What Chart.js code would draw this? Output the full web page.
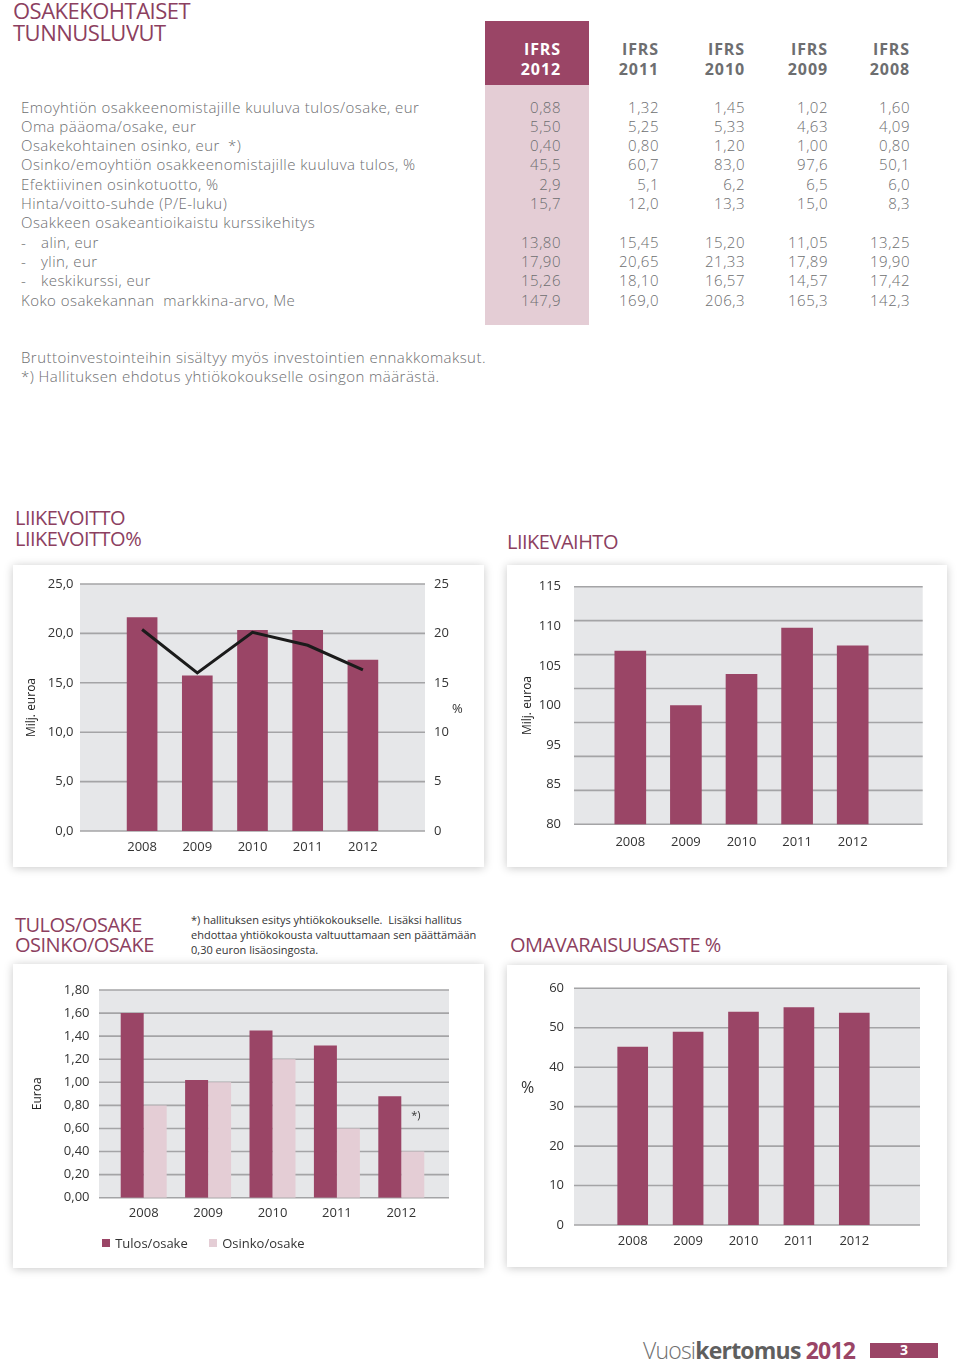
<!DOCTYPE html>
<html><head><meta charset="utf-8">
<script src="https://cdn.jsdelivr.net/npm/chart.js@4.4.1/dist/chart.umd.min.js"></script>
<style>
body{margin:0;background:#fff;font-family:"Open Sans",sans-serif;}
#page{position:relative;width:960px;height:1367px;overflow:hidden;background:#fff;}
.a{position:absolute;white-space:pre;}
.hd{color:#8c3f60;font-size:22px;line-height:21px;letter-spacing:-0.5px;}
.tx{color:#6d6e70;font-size:15px;line-height:19px;font-weight:300;letter-spacing:0.45px;}
.num{color:#6d6e70;font-size:15px;line-height:19px;font-weight:300;text-align:right;width:80px;letter-spacing:0.5px;}
.hy{font-size:16px;line-height:19px;font-weight:700;text-align:right;width:80px;color:#6d6e70;letter-spacing:0.9px;}
canvas{position:absolute;}
.ax{color:#333;font-size:13px;}
</style>
</head><body><div id="page"></div>
<script>
// ---------- data ----------
const years = ['2008','2009','2010','2011','2012'];
const liikevoitto = [21.6, 15.7, 20.3, 20.3, 17.3];
const liikevoittoPct = [20.4, 16.0, 20.1, 18.8, 16.3];
const liikevaihto = [105.5, 97.5, 102.1, 108.9, 106.3];
const liikevaihtoTickLabels = ['115','110','105','100','95','85','80'];
const tulosOsake = [1.60, 1.02, 1.45, 1.32, 0.88];
const osinkoOsake = [0.80, 1.00, 1.20, 0.60, 0.40];
const omavaraisuus = [45.1, 48.9, 54.0, 55.1, 53.7];

const tableYears = ['2012','2011','2010','2009','2008'];
const rowLabels = [
 'Emoyhtiön osakkeenomistajille kuuluva tulos/osake, eur',
 'Oma pääoma/osake, eur',
 'Osakekohtainen osinko, eur   *)',
 'Osinko/emoyhtiön osakkeenomistajille kuuluva tulos, %',
 'Efektiivinen osinkotuotto, %',
 'Hinta/voitto-suhde (P/E-luku)',
 'Osakkeen osakeantioikaistu kurssikehitys',
 '-\talin, eur',
 '-\tylin, eur',
 '-\tkeskikurssi, eur',
 'Koko osakekannan  markkina-arvo, Me'
];
const col2012 = ['0,88','5,50','0,40','45,5','2,9','15,7','','13,80','17,90','15,26','147,9'];
const col2011 = ['1,32','5,25','0,80','60,7','5,1','12,0','','15,45','20,65','18,10','169,0'];
const col2010 = ['1,45','5,33','1,20','83,0','6,2','13,3','','15,20','21,33','16,57','206,3'];
const col2009 = ['1,02','4,63','1,00','97,6','6,5','15,0','','11,05','17,89','14,57','165,3'];
const col2008 = ['1,60','4,09','0,80','50,1','6,0','8,3','','13,25','19,90','17,42','142,3'];

// ---------- styles ----------
const MAROON = '#9a4566';
const PINK = '#e4cdd5';
const GRAYBG = '#e6e7e9';
const GRID = '#a4a4a6';
const TICK = '#333333';
const page = document.getElementById('page');

function el(cls, txt, css){
  const d=document.createElement('div'); d.className='a '+(cls||''); d.textContent=txt;
  Object.assign(d.style, css||{}); page.appendChild(d); return d;
}
function box(css){const d=document.createElement('div'); d.style.position='absolute'; Object.assign(d.style,css); page.appendChild(d); return d;}

// ---------- top table ----------
el('hd','OSAKEKOHTAISET',{left:'13px',top:'0px'});
el('hd','TUNNUSLUVUT',{left:'13px',top:'21.5px'});
box({left:'485px',top:'21px',width:'104px',height:'64px',background:MAROON});
box({left:'485px',top:'85px',width:'104px',height:'240px',background:PINK});
const colRight=[561,659,745,828,910];
const cols=[col2012,col2011,col2010,col2009,col2008];
tableYears.forEach((y,i)=>{
  const c = i===0?'#ffffff':'#6d6e70';
  el('hy','IFRS',{left:(colRight[i]-80)+'px',top:'40px',color:c});
  el('hy',y,{left:(colRight[i]-80)+'px',top:'59.5px',color:c});
});
const rowTop0=97.5, rowH=19.33;
rowLabels.forEach((lab,r)=>{
  const top=(rowTop0+r*rowH)+'px';
  if(lab.startsWith('-\t')){
    el('tx','-',{left:'21px',top});
    el('tx',lab.slice(2),{left:'41px',top});
  } else if(lab.endsWith('*)')){
    el('tx',lab.replace(/\s+\*\)$/,''),{left:'21px',top});
    el('tx','*)',{left:'228px',top});
  } else el('tx',lab,{left:'21px',top});
  cols.forEach((c,i)=>{ if(c[r]) el('num',c[r],{left:(colRight[i]-80)+'px',top}); });
});
el('tx','Bruttoinvestointeihin sisältyy myös investointien ennakkomaksut.',{left:'21px',top:'347.5px'});
el('tx','*) Hallituksen ehdotus yhtiökokoukselle osingon määrästä.',{left:'21px',top:'367px'});

// ---------- section headings ----------
const sh={fontSize:'20px',lineHeight:'20px',letterSpacing:'-0.5px'};
el('hd','LIIKEVOITTO',Object.assign({left:'15px',top:'508.2px'},sh));
el('hd','LIIKEVOITTO%',Object.assign({left:'15px',top:'528.5px'},sh));
el('hd','LIIKEVAIHTO',Object.assign({left:'507px',top:'531.5px'},sh));
el('hd','TULOS/OSAKE',Object.assign({left:'15px',top:'914.8px'},sh));
el('hd','OSINKO/OSAKE',Object.assign({left:'15px',top:'934.8px'},sh));
el('hd','OMAVARAISUUSASTE %',Object.assign({left:'510px',top:'934.5px'},sh));
['*) hallituksen esitys yhtiökokoukselle.  Lisäksi hallitus','ehdottaa yhtiökokousta valtuuttamaan sen päättämään','0,30 euron lisäosingosta.']
 .forEach((t,i)=>el('',t,{left:'191px',top:(912+i*15)+'px',fontSize:'11px',lineHeight:'15px',color:'#333'}));

// ---------- panels ----------
const sh2='0 1px 9px rgba(0,0,0,0.22)';
box({left:'13px',top:'565px',width:'471px',height:'302px',background:'#fff',boxShadow:sh2});
box({left:'507px',top:'565px',width:'440px',height:'302px',background:'#fff',boxShadow:sh2});
box({left:'13px',top:'964px',width:'471px',height:'304px',background:'#fff',boxShadow:sh2});
box({left:'507px',top:'965px',width:'440px',height:'302px',background:'#fff',boxShadow:sh2});

// ---------- chart plugin: extended gray plot background + grid ----------
const panelBg={
  id:'panelBg',
  beforeDraw(chart,args,o){
    const a=chart.chartArea, s=chart.scales[o.scale||'y'], ctx=chart.ctx;
    const l=a.left-o.padL, r=a.right+o.padR;
    ctx.save();
    ctx.fillStyle=GRAYBG; ctx.fillRect(l,a.top,r-l,a.bottom-a.top);
    ctx.strokeStyle=GRID; ctx.lineWidth=1.6;
    s.ticks.forEach(t=>{const y=s.getPixelForValue(t.value); ctx.beginPath(); ctx.moveTo(l,y); ctx.lineTo(r,y); ctx.stroke();});
    ctx.restore();
  }
};
const noteMark={
  id:'noteMark',
  afterDatasetsDraw(chart,args,o){
    if(!o.text) return;
    const bar=chart.getDatasetMeta(o.dataset).data[o.index];
    const ctx=chart.ctx; ctx.save(); ctx.fillStyle='#333'; ctx.font='11px "Open Sans"';
    ctx.textAlign='center'; ctx.textBaseline='middle';
    ctx.fillText(o.text, bar.x+o.dx, bar.y+o.dy); ctx.restore();
  }
};
Chart.register(panelBg,noteMark);
Chart.defaults.font.family='"Open Sans", sans-serif';
Chart.defaults.font.size=13;
Chart.defaults.color=TICK;

function canvas(x,y,w,h){const c=document.createElement('canvas'); c.width=w;c.height=h; c.style.left=x+'px'; c.style.top=y+'px'; c.style.width=w+'px'; c.style.height=h+'px'; page.appendChild(c); return c;}
const noGrid={display:false,drawTicks:false};
const noBorder={display:false};
const comma=(d)=>v=>Number(v).toFixed(d).replace('.',',');
const basePlugins={legend:{display:false},tooltip:{enabled:false}};
const fixW=(w)=>function(s){s.width=w; s.paddingTop=0; s.paddingBottom=0;};
const fixH=(h)=>function(s){s.height=h; s.paddingLeft=0; s.paddingRight=0;};

// Chart 1: Liikevoitto + %
new Chart(canvas(13,565,471,302),{
  type:'bar',
  data:{labels:years,datasets:[
    {type:'line',label:'Liikevoitto %',data:liikevoittoPct,yAxisID:'y2',borderColor:'#1b1b1b',borderWidth:3,pointRadius:0,tension:0,order:0},
    {label:'Liikevoitto',data:liikevoitto,yAxisID:'y',backgroundColor:MAROON,barThickness:30,order:1}
  ]},
  options:{responsive:false,animation:false,devicePixelRatio:1,
    layout:{padding:{top:19,left:0,right:0,bottom:0}},
    plugins:Object.assign({panelBg:{padL:34.5,padR:34.5,scale:'y'}},basePlugins),
    scales:{
      x:{grid:noGrid,border:noBorder,ticks:{padding:8},afterFit:fixH(36)},
      y:{position:'left',min:0,max:25,grid:noGrid,border:noBorder,
         ticks:{stepSize:5,padding:41,callback:comma(1)},
         title:{display:true,text:'Milj. euroa',font:{size:12},color:'#222',padding:{top:11,bottom:0}},
         afterFit:fixW(101.5)},
      y2:{position:'right',min:0,max:25,grid:noGrid,border:noBorder,
         ticks:{stepSize:5,padding:43.5},afterFit:fixW(93.5)}
    }}
});
el('ax','%',{left:'452px',top:'699px'});

// Chart 2: Liikevaihto
new Chart(canvas(507,565,440,302),{
  type:'bar',
  data:{labels:years,datasets:[
    {label:'Liikevaihto',data:liikevaihto,yAxisID:'y',backgroundColor:MAROON,barThickness:31}
  ]},
  options:{responsive:false,animation:false,devicePixelRatio:1,
    layout:{padding:{top:21.7,left:0,right:66.5,bottom:0}},
    plugins:Object.assign({panelBg:{padL:28.5,padR:42.2,scale:'y'}},basePlugins),
    scales:{
      x:{grid:noGrid,border:noBorder,ticks:{padding:10},afterFit:fixH(42.7)},
      y:{display:false,min:80,max:115,ticks:{stepSize:5}},
      yl:{type:'category',labels:liikevaihtoTickLabels,position:'left',offset:false,grid:noGrid,border:noBorder,
         ticks:{padding:41.5,autoSkip:false},
         title:{display:true,text:'Milj. euroa',font:{size:12},color:'#222',padding:{top:13,bottom:0}},
         afterFit:fixW(95.5)}
    }}
});

// Chart 3: Tulos/osake, Osinko/osake
new Chart(canvas(13,964,471,304),{
  type:'bar',
  data:{labels:years,datasets:[
    {label:'Tulos/osake',data:tulosOsake,backgroundColor:MAROON,barPercentage:1,categoryPercentage:0.714},
    {label:'Osinko/osake',data:osinkoOsake,backgroundColor:PINK,barPercentage:1,categoryPercentage:0.714}
  ]},
  options:{responsive:false,animation:false,devicePixelRatio:1,
    layout:{padding:{top:26,left:0,right:50.5,bottom:0}},
    plugins:Object.assign({panelBg:{padL:12.5,padR:15.5,scale:'y'},noteMark:{text:'*)',dataset:1,index:4,dx:3,dy:-36}},basePlugins),
    scales:{
      x:{grid:noGrid,border:noBorder,ticks:{padding:8},afterFit:fixH(70.3)},
      y:{position:'left',min:0,max:1.8,grid:noGrid,border:noBorder,
         ticks:{stepSize:0.2,padding:22,callback:comma(2)},
         title:{display:true,text:'Euroa',font:{size:12},color:'#222',padding:{top:17,bottom:0}},
         afterFit:fixW(98.5)}
    }}
});
// legend (from dataset labels/colours)
[['Tulos/osake',MAROON,101.7],['Osinko/osake',PINK,208.7]].forEach(([t,c,x])=>{
  box({left:x+'px',top:'1239px',width:'8px',height:'8px',background:c});
  el('ax',t,{left:(x+13.5)+'px',top:'1234px',lineHeight:'18px'});
});

// Chart 4: Omavaraisuusaste
new Chart(canvas(507,965,440,302),{
  type:'bar',
  data:{labels:years,datasets:[
    {label:'Omavaraisuusaste %',data:omavaraisuus,backgroundColor:MAROON,barThickness:30}
  ]},
  options:{responsive:false,animation:false,devicePixelRatio:1,
    layout:{padding:{top:23.3,left:0,right:65,bottom:0}},
    plugins:Object.assign({panelBg:{padL:31,padR:38,scale:'y'}},basePlugins),
    scales:{
      x:{grid:noGrid,border:noBorder,ticks:{padding:8},afterFit:fixH(42)},
      y:{position:'left',min:0,max:60,grid:noGrid,border:noBorder,
         ticks:{stepSize:10,padding:41},afterFit:fixW(98)}
    }}
});
el('ax','%',{left:'521px',top:'1076px',fontSize:'16px'});

// ---------- footer ----------
const f=el('','',{left:'643px',top:'1336px',fontSize:'23px',lineHeight:'28px',letterSpacing:'-0.8px'});
f.innerHTML='<span style="color:#707070;font-weight:300">Vuosi</span><span style="color:#5f5f5f;font-weight:700">kertomus</span> <span style="color:'+MAROON+';font-weight:700">2012</span>';
box({left:'870px',top:'1343px',width:'68px',height:'15px',background:MAROON});
el('',"3",{left:'870px',top:'1341px',width:'68px',textAlign:'center',color:'#fff',fontWeight:'700',fontSize:'14px',lineHeight:'18px'});
</script>
</body></html>
